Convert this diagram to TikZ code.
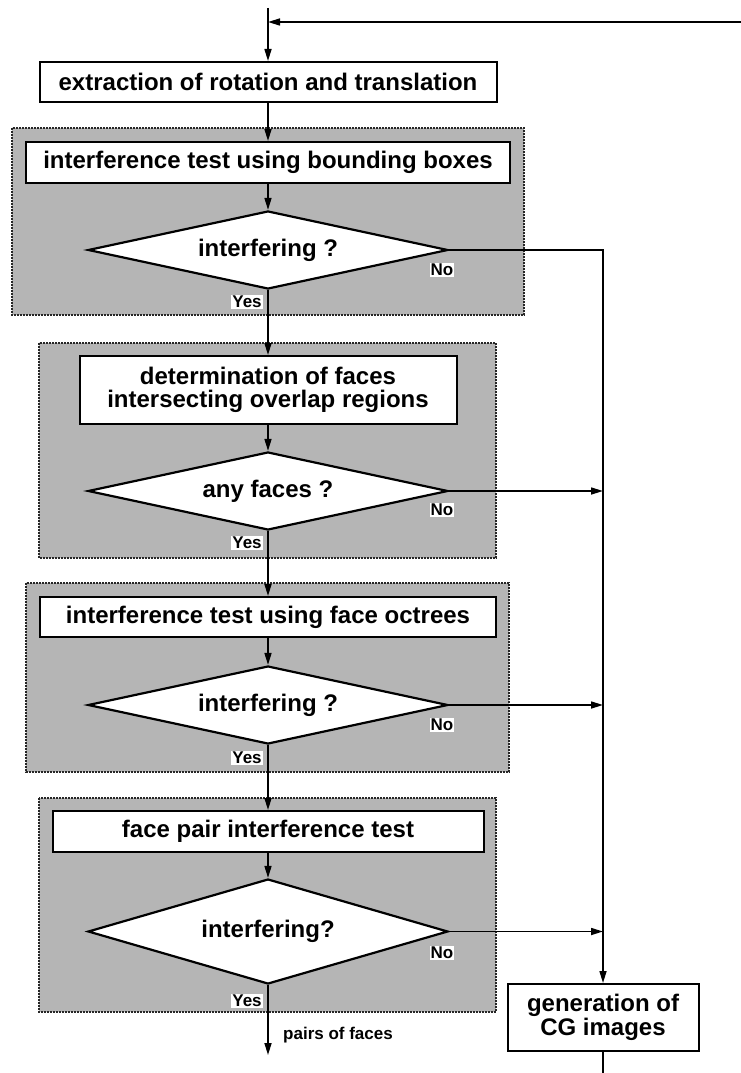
\documentclass[tikz,border=0pt]{standalone}
\usepackage{fontspec}
\newfontfamily\flowfont{Liberation Sans}
\usetikzlibrary{shapes.geometric,arrows.meta}
\definecolor{regiongray}{HTML}{B5B5B5}
\tikzset{
  region/.style={fill=regiongray, draw=black!85, line width=1.6pt, dash pattern=on 1.6pt off 1.4pt},
  procbox/.style={draw, fill=white, line width=2pt, inner sep=0pt, align=center,
    font=\flowfont\bfseries\fontsize{24}{23.5}\selectfont},
  decision/.style={diamond, draw, fill=white, line width=2.2pt, inner sep=0pt, aspect=4,
    minimum width=360pt, font=\flowfont\bfseries\fontsize{24}{24}\selectfont},
  flow/.style={line width=1.6pt, -{Triangle[length=12pt,width=7pt]}},
  plain/.style={line width=1.6pt},
  tag/.style={fill=white, inner sep=1pt, font=\flowfont\bfseries\fontsize{17}{18}\selectfont},
  note/.style={inner sep=0pt, font=\flowfont\bfseries\fontsize{17}{18}\selectfont}
}
\begin{document}
\begin{tikzpicture}[x=1pt,y=-1pt]
\useasboundingbox (0,0) rectangle (741,1073);

% shaded stages
\draw[region] (12,128) rectangle (524,315);
\draw[region] (39,343) rectangle (496,558);
\draw[region] (26,583) rectangle (509,772);
\draw[region] (39,798) rectangle (496,1012);

% process boxes
\node[procbox, minimum width=457pt, minimum height=40pt] (extract) at (268,82)
  {extraction of rotation and translation};
\node[procbox, minimum width=484pt, minimum height=41pt] (bbox) at (268,162.5)
  {interference test using bounding boxes};
\node[procbox, minimum width=377pt, minimum height=68pt] (faces) at (268,390)
  {determination of faces\\intersecting overlap regions};
\node[procbox, minimum width=456pt, minimum height=40pt] (octree) at (268,617)
  {interference test using face octrees};
\node[procbox, minimum width=431pt, minimum height=41pt] (pair) at (268,831.5)
  {face pair interference test};
\node[procbox, minimum width=191pt, minimum height=67pt] (gen) at (603,1017.5)
  {generation of\\CG images};

% decisions
\node[decision, minimum height=78pt] (d1) at (268,250) {interfering ?};
\node[decision, minimum height=78pt] (d2) at (268,491) {any faces ?};
\node[decision, minimum height=78pt] (d3) at (268,705) {interfering ?};
\node[decision, minimum height=105pt] (d4) at (268,931.5) {interfering?};

% connector ends
\coordinate (start) at (268,8);
\coordinate (loop) at (741,22);
\coordinate (pairsend) at (268,1055);
\coordinate (genout) at (603,1073);

% main column
\draw[flow] (start) -- (extract.north);
\draw[flow] (loop) -- (loop -| start);
\draw[flow] (extract) -- (bbox);
\draw[flow] (bbox) -- (d1);
\draw[flow] (d1) -- (faces);
\draw[flow] (faces) -- (d2);
\draw[flow] (d2) -- (octree);
\draw[flow] (octree) -- (d3);
\draw[flow] (d3) -- (pair);
\draw[flow] (pair) -- (d4);
\draw[flow] (d4.south) -- (pairsend);

% "No" branches to the image generation
\draw[flow] (d1.east) -| (gen.north);
\draw[flow] (d2.east) -- (d2.east -| gen.north);
\draw[flow] (d3.east) -- (d3.east -| gen.north);
\draw[flow] (d4.east) -- (d4.east -| gen.north);
\draw[plain] (gen.south) -- (genout);

% branch labels
\node[tag] (no1) at (442,270) {No};
\node[tag] (no2) at (442,510) {No};
\node[tag] (no3) at (442,725) {No};
\node[tag] (no4) at (442,953) {No};
\node[tag] (yes1) at (247,302) {Yes};
\node[tag] (yes2) at (247,543) {Yes};
\node[tag] (yes3) at (247,758) {Yes};
\node[tag] (yes4) at (247,1001) {Yes};
\node[note, anchor=west] (pairs) at (283,1035) {pairs of faces};
\end{tikzpicture}
\end{document}
